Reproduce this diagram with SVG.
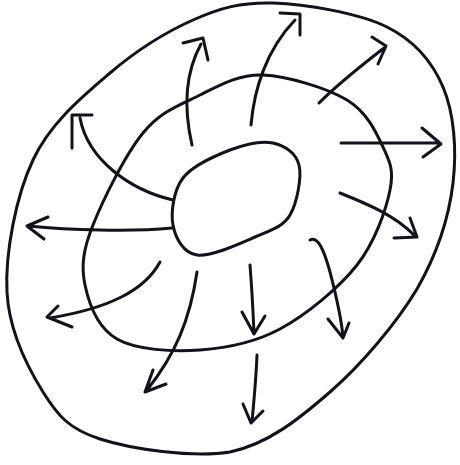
<svg xmlns="http://www.w3.org/2000/svg" width="460" height="465" viewBox="0 0 460 465">
<style>
.s{fill:none;stroke:#12121c;stroke-width:3;stroke-linecap:round;stroke-linejoin:round}
</style>
<rect width="460" height="465" fill="#ffffff"/>
<g id="rings">
<path id="outer" class="s" d="M273,3 C305,4 359,13 387,27 C415,41 432,61 443,87 C454,113 457,149 453,183 C449,217 437,254 417,289 C396,324 361,365 330,392 C299,419 268,444 230,452 C192,458 131,449 100,439 C69,429 58,416 43,392 C28,368 9,331 7,292 C5,253 16,196 33,160 C50,123 83,96 110,73 C137,50 166,32 193,20 C220,8 241,2 273,3 Z"/>
<path id="middle" class="s" d="M263,75 C287,76 327,88 347,100 C367,112 376,132 383,147 C390,162 394,170 390,190 C386,210 375,242 357,265 C339,288 306,315 280,329 C254,343 227,348 200,350 C173,352 136,350 117,339 C98,328 89,304 85,285 C81,266 83,250 93,225 C103,200 125,155 143,133 C161,111 180,105 200,95 C220,85 239,74 263,75 Z"/>
<path id="inner" class="s" d="M273,143 C284.5,145.5 296,153 299,165 C302,177 297,203 290,215 C283,227 270.5,230.3 255,237 C239.5,243.7 210.7,257 197,255 C183.3,253 175.3,237.8 173,225 C170.7,212.2 173.5,190.5 183,178 C192.5,165.5 215,155.8 230,150 C245,144.2 261.5,140.5 273,143 Z"/>
</g>
<g id="arrows">
<path class="s" d="M192,145 C184,110 184,75 201,44 M183,43 L203,38 L208,60"/>
<path class="s" d="M173,200 C130,190 88,160 80,118 M72,115 L92,115 M72,115 L72,148"/>
<path class="s" d="M172,228 C130,232 70,230 28,226 M48,217 L27,226 L44,239"/>
<path class="s" d="M160,262 C145,290 110,308 50,318 M58,306 L47,317 L72,327"/>
<path class="s" d="M197,272 C190,320 175,355 147,390 M153,370 L145,392 L166,384"/>
<path class="s" d="M250,265 C252,290 253,310 254,333 M242,312 L254,334 L265,316"/>
<path class="s" d="M257,355 C256,380 254,400 252,422 M243,404 L251,423 L263,411"/>
<path class="s" d="M310,240 C318,236 324,250 330,272 C336,295 341,315 343,337 M328,319 L343,338 L349,323"/>
<path class="s" d="M340,193 C365,203 395,215 415,236 M410,218 L417,237 L394,238"/>
<path class="s" d="M341,143 L440,143 M422,128 L441,144 L423,157"/>
<path class="s" d="M319,103 C340,82 362,65 384,48 M372,37 L386,46 L378,64"/>
<path class="s" d="M251,125 C254,90 266,50 295,20 M280,13 L300,14 L300,35"/>
</g>
</svg>
